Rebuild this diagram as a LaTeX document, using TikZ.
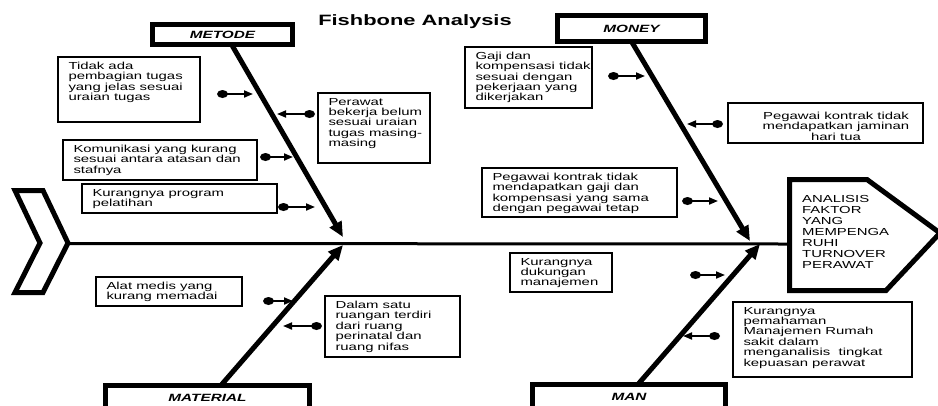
\documentclass[tikz,border=0pt]{standalone}
\usepackage{fontspec}
\setmainfont[FakeStretch=1.46]{Liberation Sans}
\usetikzlibrary{arrows.meta}

\tikzset{
  catbox/.style={draw, line width=5bp, inner sep=0pt,
    font=\fontsize{10.5bp}{12bp}\selectfont\bfseries\itshape},
  cause/.style={draw, line width=1.3bp, anchor=north west, inner sep=0pt, outer sep=0pt},
  ctext/.style={anchor=north west, align=left, inner sep=0pt, outer sep=0pt,
    xshift=10.5bp, yshift=-5bp, font=\fontsize{10.2bp}{10.4bp}\selectfont},
  ctextc/.style={ctext, anchor=north, align=center, xshift=0bp, yshift=-4bp},
  bone/.style={line width=5bp, shorten <=-2bp, -{Triangle[length=15bp,width=13bp]}},
  spine/.style={line width=3bp},
  link/.style={line width=1.8bp, -{Triangle[length=9bp,width=7bp]}}
}

\begin{document}
\begin{tikzpicture}[x=1bp, y=-1bp, line join=miter]
  \useasboundingbox (0,0) rectangle (938,405);

  % Title
  \node[anchor=base, font=\fontsize{15bp}{18bp}\selectfont\bfseries] (title) at (415,25.7) {Fishbone Analysis};

  % Tail and head of the fish
  \draw[line width=5bp] (15,190.5) -- (43,190.5) -- (68,243) -- (43,292.5) -- (15,292.5) -- (40,243) -- cycle;
  \draw[line width=5bp] (789.5,179.5) -- (867,179.5) -- (940,233) -- (886,290.5) -- (789.5,290.5) -- cycle;
  \node[anchor=north west, align=left, inner sep=0pt, font=\fontsize{10.2bp}{11bp}\selectfont] (effect) at (802,195)
    {ANALISIS\\FAKTOR\\YANG\\MEMPENGA\\RUHI\\TURNOVER\\PERAWAT};

  \coordinate (tail) at (68,243.5);
  \coordinate (head) at (789.5,244);
  \draw[spine] (tail) -- (head);

  % Categories
  \node[catbox, minimum width=140bp, minimum height=20bp] (metode) at (222.5,34.5) {METODE};
  \node[catbox, minimum width=148bp, minimum height=26bp] (money) at (631.5,28.5) {MONEY};
  \node[catbox, minimum width=204bp, minimum height=25bp] (material) at (207.5,398) {MATERIAL};
  \node[catbox, minimum width=193bp, minimum height=25bp] (man) at (629,397) {MAN};

  \coordinate (mtip) at (343,237);
  \coordinate (ytip) at (750,241);
  \coordinate (atip) at (343,245);
  \coordinate (ntip) at (760,244);

  \draw[bone] ([xshift=10.5bp]metode.south) -- (mtip);
  \draw[bone] ([xshift=1.5bp]money.south) -- (ytip);
  \draw[bone] ([xshift=15.5bp]material.north) -- (atip);
  \draw[bone] ([xshift=11bp]man.north) -- (ntip);

  % Causes: metode
  \node[cause, minimum width=142bp, minimum height=65bp,
    label={[ctext]north west:Tidak ada\\pembagian tugas\\yang jelas sesuai\\uraian tugas}] (tugas) at (58,57) {};
  \node[cause, minimum width=112bp, minimum height=70bp,
    label={[ctext]north west:Perawat\\bekerja belum\\sesuai uraian\\tugas masing-\\masing}] (perawat) at (318,93) {};
  \node[cause, minimum width=194bp, minimum height=40bp,
    label={[ctext]north west:Komunikasi yang kurang\\sesuai antara atasan dan\\stafnya}] (komunikasi) at (63,140) {};
  \node[cause, minimum width=195bp, minimum height=29bp,
    label={[ctext]north west:Kurangnya program\\pelatihan}] (pelatihan) at (82,184) {};

  % Causes: material
  \node[cause, minimum width=146bp, minimum height=29bp,
    label={[ctext]north west:Alat medis yang\\kurang memadai}] (alat) at (96,277) {};
  \node[cause, minimum width=135bp, minimum height=61bp,
    label={[ctext]north west:Dalam satu\\ruangan terdiri\\dari ruang\\perinatal dan\\ruang nifas}] (ruangan) at (325,296) {};

  % Causes: money
  \node[cause, minimum width=127bp, minimum height=61bp,
    label={[ctext]north west:Gaji dan\\kompensasi tidak\\sesuai dengan\\pekerjaan yang\\dikerjakan}] (gaji) at (465,47) {};
  \node[cause, minimum width=195bp, minimum height=40bp,
    label={[ctextc]north:Pegawai kontrak tidak\\mendapatkan jaminan\\hari tua}] (jaminan) at (728,103) {};
  \node[cause, minimum width=195bp, minimum height=49bp,
    label={[ctext]north west:Pegawai kontrak tidak\\mendapatkan gaji dan\\kompensasi yang sama\\dengan pegawai tetap}] (kontrak) at (482,168) {};

  % Causes: man
  \node[cause, minimum width=102bp, minimum height=39bp,
    label={[ctext]north west:Kurangnya\\dukungan\\manajemen}] (dukungan) at (510,253) {};
  \node[cause, minimum width=179bp, minimum height=75bp,
    label={[ctext]north west:Kurangnya\\pemahaman\\Manajemen Rumah\\sakit dalam\\menganalisis\ \ tingkat\\kepuasan perawat}] (pemahaman) at (733,302) {};

  % Links (dot -> arrow)
  \coordinate (d1) at (222.5,94);  \coordinate (t1) at (253,94);
  \coordinate (d2) at (309.5,114); \coordinate (t2) at (277,114);
  \coordinate (d3) at (265.5,157); \coordinate (t3) at (293,157);
  \coordinate (d4) at (283.5,207); \coordinate (t4) at (315,207);
  \coordinate (d5) at (268.5,301); \coordinate (t5) at (293,301);
  \coordinate (d6) at (316.5,326); \coordinate (t6) at (283,326);
  \coordinate (d7) at (613.5,76);  \coordinate (t7) at (645,76);
  \coordinate (d8) at (717.5,124); \coordinate (t8) at (687,124);
  \coordinate (d9) at (687.5,201); \coordinate (t9) at (718,201);
  \coordinate (d10) at (695.5,275); \coordinate (t10) at (725,275);
  \coordinate (d11) at (714.5,336); \coordinate (t11) at (683,336);

  \foreach \i in {1,...,11} {
    \fill (d\i) ellipse (5.5 and 4);
    \draw[link] (d\i) -- (t\i);
  }
\end{tikzpicture}
\end{document}
